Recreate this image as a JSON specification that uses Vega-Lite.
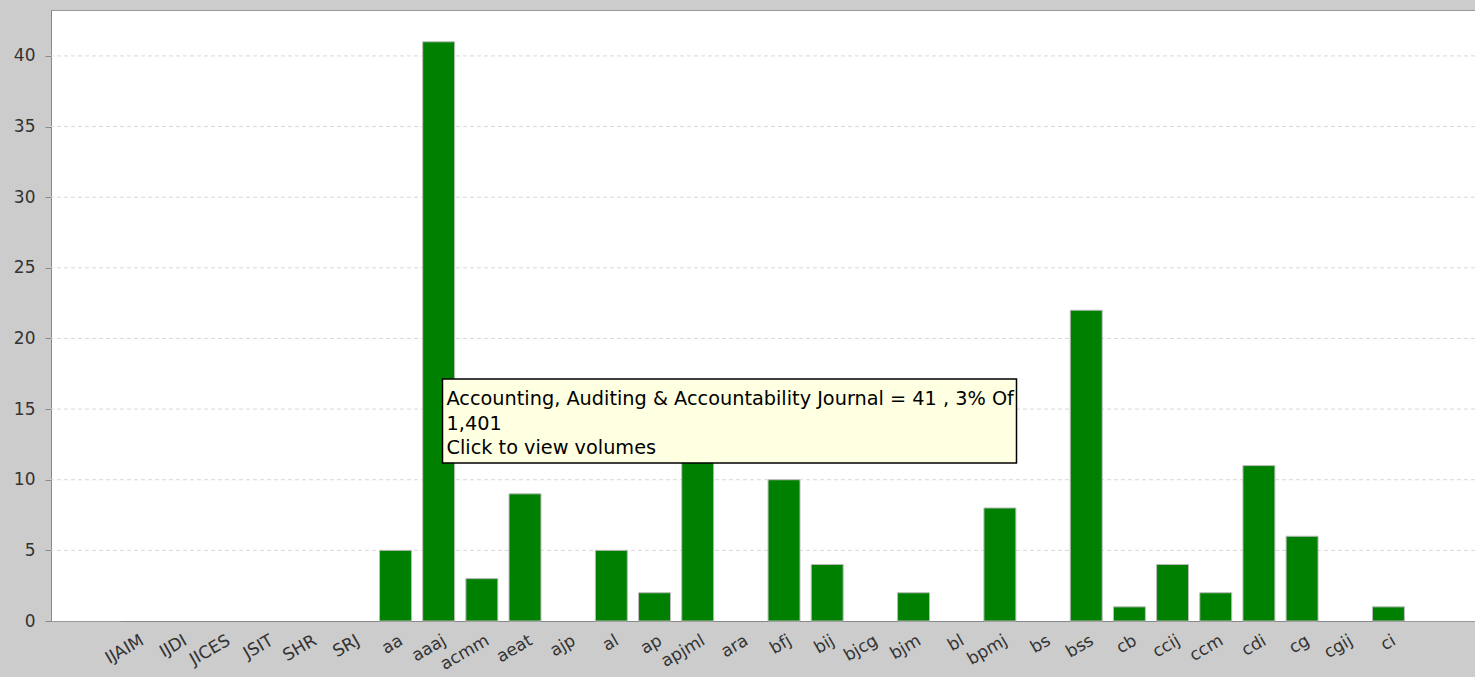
{
  "$schema": "https://vega.github.io/schema/vega-lite/v6.json",
  "width": 1424,
  "height": 611,
  "autosize": {"type": "none"},
  "padding": {"left": 51, "top": 10, "right": 0, "bottom": 56},
  "background": "#cccccc",
  "config": {"view": {"fill": "white", "stroke": "#999999", "strokeWidth": 1}},
  "datasets": {
    "counts": [
      {"journal": "IJAIM", "count": 0},
      {"journal": "IJDI", "count": 0},
      {"journal": "JICES", "count": 0},
      {"journal": "JSIT", "count": 0},
      {"journal": "SHR", "count": 0},
      {"journal": "SRJ", "count": 0},
      {"journal": "aa", "count": 5},
      {"journal": "aaaj", "count": 41},
      {"journal": "acmm", "count": 3},
      {"journal": "aeat", "count": 9},
      {"journal": "ajp", "count": 0},
      {"journal": "al", "count": 5},
      {"journal": "ap", "count": 2},
      {"journal": "apjml", "count": 12},
      {"journal": "ara", "count": 0},
      {"journal": "bfj", "count": 10},
      {"journal": "bij", "count": 4},
      {"journal": "bjcg", "count": 0},
      {"journal": "bjm", "count": 2},
      {"journal": "bl", "count": 0},
      {"journal": "bpmj", "count": 8},
      {"journal": "bs", "count": 0},
      {"journal": "bss", "count": 22},
      {"journal": "cb", "count": 1},
      {"journal": "ccij", "count": 4},
      {"journal": "ccm", "count": 2},
      {"journal": "cdi", "count": 11},
      {"journal": "cg", "count": 6},
      {"journal": "cgij", "count": 0},
      {"journal": "ci", "count": 1}
    ],
    "gridValues": [
      {"tick": 5}, {"tick": 10}, {"tick": 15}, {"tick": 20},
      {"tick": 25}, {"tick": 30}, {"tick": 35}, {"tick": 40}
    ]
  },
  "layer": [
    {
      "data": {"name": "gridValues"},
      "mark": {"type": "rule", "color": "#d8d8d8", "strokeDash": [4, 3], "strokeWidth": 1},
      "encoding": {
        "y": {
          "field": "tick",
          "type": "quantitative",
          "scale": {"domain": [0, 43.25], "nice": false},
          "axis": {
            "title": null,
            "values": [0, 5, 10, 15, 20, 25, 30, 35, 40],
            "grid": false,
            "tickColor": "#888888",
            "tickSize": 6,
            "domainColor": "#888888",
            "labelFontSize": 17,
            "labelFont": "DejaVu Sans",
            "labelColor": "#333333",
            "labelPadding": 10
          }
        }
      }
    },
    {
      "data": {"name": "counts"},
      "mark": {"type": "bar", "color": "#008000", "stroke": "#bbbbbb", "strokeWidth": 1},
      "encoding": {
        "x": {
          "field": "journal",
          "type": "nominal",
          "sort": null,
          "scale": {"paddingInner": 0.26, "paddingOuter": 0, "range": [69.5, 1353.4]},
          "axis": {
            "title": null,
            "labelAngle": -30,
            "labelAlign": "right",
            "labelBaseline": "top",
            "labelPadding": 11,
            "labelOffset": 2,
            "ticks": false,
            "domainColor": "#888888",
            "labelFontSize": 17,
            "labelFont": "DejaVu Sans",
            "labelColor": "#333333",
            "labelOverlap": false,
            "labelLimit": 0,
            "grid": false
          }
        },
        "y": {
          "field": "count",
          "type": "quantitative",
          "axis": {
            "title": null,
            "values": [0, 5, 10, 15, 20, 25, 30, 35, 40],
            "grid": false,
            "tickColor": "#888888",
            "tickSize": 6,
            "domainColor": "#888888",
            "labelFontSize": 17,
            "labelFont": "DejaVu Sans",
            "labelColor": "#333333",
            "labelPadding": 10
          }
        },
        "strokeOpacity": {"condition": {"test": "datum.count > 0", "value": 1}, "value": 0}
      }
    },
    {
      "data": {"values": [{}]},
      "mark": {"type": "rect", "fill": "#ffffe1", "stroke": "black", "strokeWidth": 1.5},
      "encoding": {
        "x": {"datum": "aaaj", "bandPosition": 0.62},
        "x2": {"datum": "bpmj", "bandPosition": 1.02},
        "y": {"datum": 17.13},
        "y2": {"datum": 11.18}
      }
    },
    {
      "data": {"values": [{}]},
      "mark": {
        "type": "text",
        "align": "left",
        "baseline": "top",
        "dx": 4,
        "dy": 11,
        "font": "DejaVu Sans",
        "fontSize": 19.3,
        "lineHeight": 24.5,
        "color": "black",
        "text": ["Accounting, Auditing & Accountability Journal = 41 , 3% Of", "1,401", "Click to view volumes"]
      },
      "encoding": {
        "x": {"datum": "aaaj", "bandPosition": 0.62},
        "y": {"datum": 17.13}
      }
    }
  ]
}
